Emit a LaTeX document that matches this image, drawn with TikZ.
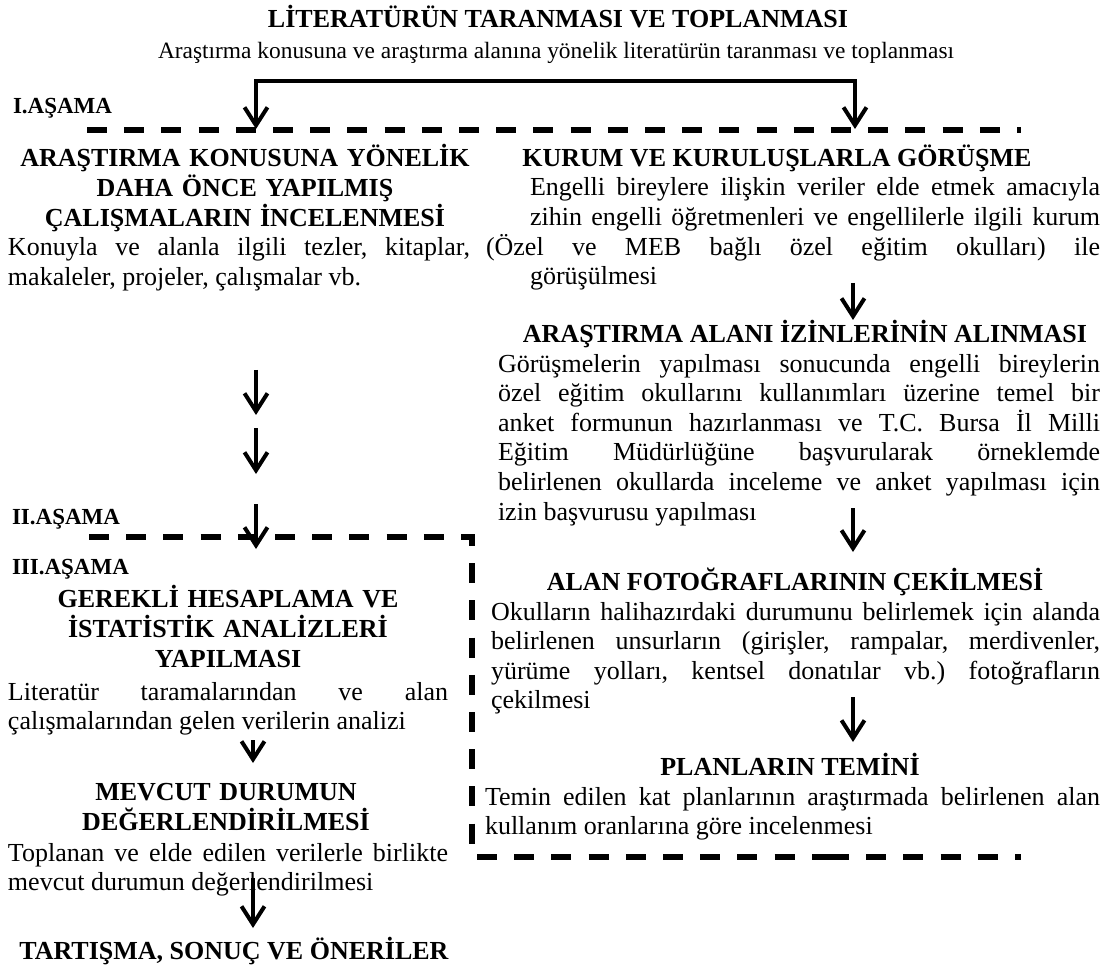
\documentclass[tikz,border=0pt]{standalone}
\usepackage{fontspec}
\setmainfont{Liberation Serif}
\usetikzlibrary{arrows.meta}
\tolerance=10000
\hyphenpenalty=10000
\exhyphenpenalty=10000
\frenchspacing

\begin{document}
\begin{tikzpicture}[x=0.5pt,y=-0.5pt]
	\tikzstyle{every node}=[inner sep=0pt,outer sep=0pt]
	\tikzstyle{head}=[font=\fontsize{13}{15}\selectfont\bfseries,align=center,anchor=base]
	\tikzstyle{body}=[font=\fontsize{13}{14.8}\selectfont,align=justify,anchor=base west]
	\tikzstyle{stage}=[font=\fontsize{11.5}{13}\selectfont\bfseries,anchor=base west]
	\tikzstyle{dashline}=[line width=2.75pt,dash pattern=on 10pt off 8.6pt]
	\tikzstyle{arr}=[line width=2pt,-{Straight Barb[length=9pt,width=11.5pt]}]
	\fill[white] (0,0) rectangle (1117,972);
	\node[head] (title) at (558,28) {LİTERATÜRÜN TARANMASI VE TOPLANMASI};
	\node[font=\fontsize{11.7}{13}\selectfont,anchor=base] (sub) at (556,59) {Araştırma konusuna ve araştırma alanına yönelik literatürün taranması ve toplanması};
	\node[stage] (stI) at (13,113.5) {I.AŞAMA};
	\node[head,text width=231pt] (litH) at (245,166.5) {ARAŞTIRMA KONUSUNA YÖNELİK\\ DAHA ÖNCE YAPILMIŞ\\ ÇALIŞMALARIN İNCELENMESİ};
	\node[body,text width=231pt] (litB) at (8,256) {Konuyla ve alanla ilgili tezler, kitaplar,\linebreak makaleler, projeler, çalışmalar vb.};
	\node[head] (kurH) at (777,166.5) {KURUM VE KURULUŞLARLA GÖRÜŞME};
	\node[body,text width=285pt] (kurB) at (530,196) {Engelli bireylere ilişkin veriler elde etmek amacıyla\linebreak zihin engelli öğretmenleri ve engellilerle ilgili kurum\linebreak \hspace*{-22pt}(Özel ve MEB bağlı özel eğitim okulları) ile\linebreak görüşülmesi};
	\node[head] (izinH) at (805,342.5) {ARAŞTIRMA ALANI İZİNLERİNİN ALINMASI};
	\node[body,text width=301pt] (izinB) at (498,372) {Görüşmelerin yapılması sonucunda engelli bireylerin\linebreak özel eğitim okullarını kullanımları üzerine temel bir\linebreak anket formunun hazırlanması ve T.C. Bursa İl Milli\linebreak Eğitim Müdürlüğüne başvurularak örneklemde\linebreak belirlenen okullarda inceleme ve anket yapılması için\linebreak izin başvurusu yapılması};
	\node[head] (fotoH) at (795,590.5) {ALAN FOTOĞRAFLARININ ÇEKİLMESİ};
	\node[body,text width=304.5pt] (fotoB) at (491,620) {Okulların halihazırdaki durumunu belirlemek için alanda\linebreak belirlenen unsurların (girişler, rampalar, merdivenler,\linebreak yürüme yolları, kentsel donatılar vb.) fotoğrafların\linebreak çekilmesi};
	\node[head] (planH) at (790,775.5) {PLANLARIN TEMİNİ};
	\node[body,text width=307.5pt] (planB) at (485,805) {Temin edilen kat planlarının araştırmada belirlenen alan\linebreak kullanım oranlarına göre incelenmesi};
	\node[stage] (stII) at (12,524.5) {II.AŞAMA};
	\node[stage] (stIII) at (12,574.5) {III.AŞAMA};
	\node[head,text width=220pt] (hesH) at (228,607.5) {GEREKLİ HESAPLAMA VE\\ İSTATİSTİK ANALİZLERİ\\ YAPILMASI};
	\node[body,text width=220pt] (hesB) at (8,700) {Literatür taramalarından ve alan\linebreak çalışmalarından gelen verilerin analizi};
	\node[head,text width=220pt] (mevH) at (226,800.5) {MEVCUT DURUMUN\\ DEĞERLENDİRİLMESİ};
	\node[body,text width=220pt] (mevB) at (8,861) {Toplanan ve elde edilen verilerle birlikte\linebreak mevcut durumun değerlendirilmesi};
	\node[head] (son) at (234,959.5) {TARTIŞMA, SONUÇ VE ÖNERİLER};
	\coordinate (tipL) at (256,129);
	\coordinate (brL) at (256,81);
	\coordinate (brR) at (855,81);
	\coordinate (tipR) at (855,129);
	\draw[line width=2pt,{Straight Barb[length=9pt,width=11.5pt]}-{Straight Barb[length=9pt,width=11.5pt]}] (tipL) -- (brL) -- (brR) -- (tipR);
	\coordinate (d1a) at (87,130);
	\coordinate (d1b) at (1021,130);
	\draw[dashline] (d1a) -- (d1b);
	\coordinate (d2a) at (89,537);
	\coordinate (d2c) at (472,537);
	\coordinate (d2b) at (472,845);
	\draw[dashline] (d2a) -- (d2c) -- (d2b);
	\coordinate (d3a) at (477,857);
	\coordinate (d3m) at (835,857);
	\coordinate (d3n) at (829,857);
	\coordinate (d3b) at (1021,857);
	\draw[dashline] (d3a) -- (d3m);
	\draw[dashline] (d3n) -- (d3b);
	\coordinate (a1s) at (256,370);
	\coordinate (a1e) at (256,415);
	\coordinate (a2s) at (256,428);
	\coordinate (a2e) at (256,474);
	\coordinate (a3s) at (256,504);
	\coordinate (a3e) at (256,549);
	\draw[arr] (a1s) -- (a1e);
	\draw[arr] (a2s) -- (a2e);
	\draw[arr] (a3s) -- (a3e);
	\coordinate (a4s) at (253,740);
	\coordinate (a4e) at (253,763);
	\coordinate (a5s) at (253,878);
	\coordinate (a5e) at (253,928);
	\draw[arr] (a4s) -- (a4e);
	\draw[arr] (a5s) -- (a5e);
	\coordinate (r1s) at (853,283);
	\coordinate (r1e) at (853,320);
	\coordinate (r2s) at (853,508);
	\coordinate (r2e) at (853,552);
	\coordinate (r3s) at (853,697);
	\coordinate (r3e) at (853,742);
	\draw[arr] (r1s) -- (r1e);
	\draw[arr] (r2s) -- (r2e);
	\draw[arr] (r3s) -- (r3e);
\end{tikzpicture}
\end{document}
